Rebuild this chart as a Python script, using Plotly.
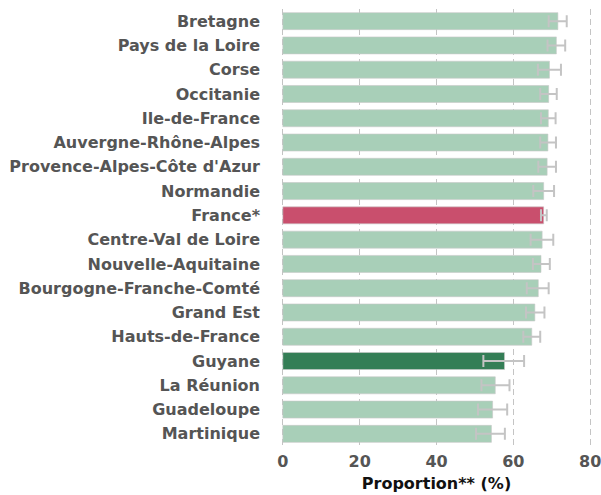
import plotly.graph_objects as go

regions = ["Bretagne", "Pays de la Loire", "Corse", "Occitanie", "Ile-de-France",
           "Auvergne-Rhône-Alpes", "Provence-Alpes-Côte d'Azur", "Normandie", "France*",
           "Centre-Val de Loire", "Nouvelle-Aquitaine", "Bourgogne-Franche-Comté",
           "Grand Est", "Hauts-de-France", "Guyane", "La Réunion", "Guadeloupe", "Martinique"]
values = [71.6, 71.2, 69.4, 69.2, 69.1, 69.0, 68.8, 67.9, 67.9, 67.5, 67.2, 66.5,
          65.6, 64.8, 57.7, 55.3, 54.6, 54.3]
ci_low = [69.2, 68.9, 66.4, 67.0, 67.2, 67.0, 66.5, 65.2, 67.2, 64.5, 65.1, 63.5,
          63.3, 62.6, 52.2, 51.7, 50.8, 50.3]
ci_high = [73.9, 73.5, 72.4, 71.3, 71.0, 71.1, 71.1, 70.6, 68.7, 70.4, 69.5, 69.2,
           68.1, 67.0, 62.8, 59.0, 58.4, 57.8]
x_ticks = [0, 20, 40, 60, 80]

colors = []
for r in regions:
    if r == "France*":
        colors.append("#c94f6d")
    elif r == "Guyane":
        colors.append("#347e56")
    else:
        colors.append("#a8cfb8")

fig = go.Figure(go.Bar(
    x=values, y=regions, orientation="h",
    marker=dict(color=colors, line=dict(color="rgba(200,200,200,0.6)", width=1)),
    width=0.7,
    error_x=dict(type="data", symmetric=False,
                 array=[h - v for h, v in zip(ci_high, values)],
                 arrayminus=[v - l for l, v in zip(ci_low, values)],
                 color="#c4c4c4", thickness=2, width=6),
    hoverinfo="x+y",
))

fig.update_layout(
    width=601, height=495,
    margin=dict(l=279, r=7, t=9, b=49),
    plot_bgcolor="white", paper_bgcolor="white",
    showlegend=False,
    font=dict(family="DejaVu Sans", color="#555555"),
)
fig.update_xaxes(
    range=[-1, 81], tickvals=x_ticks,
    tickfont=dict(size=16, family="DejaVu Sans", color="#555555", weight="bold"),
    showgrid=True, gridcolor="#c4c4c4", griddash="6px,4px", gridwidth=1.2,
    zeroline=False, showline=False,
    title=dict(text="Proportion** (%)", font=dict(size=16, family="DejaVu Sans", color="#111111", weight="bold"), standoff=7),
    ticks="", ticklabelstandoff=4, ticklabeloverflow="allow",
    automargin=False,
)
fig.update_yaxes(
    autorange="reversed",
    tickfont=dict(size=16, family="DejaVu Sans", color="#555555", weight="bold"),
    showgrid=False, zeroline=False, showline=False,
    ticks="", ticklabelstandoff=18,
    automargin=False,
)

fig.write_html("out.html", config={"displayModeBar": False},
               post_script="document.body.style.margin='0';document.body.style.padding='0';")
